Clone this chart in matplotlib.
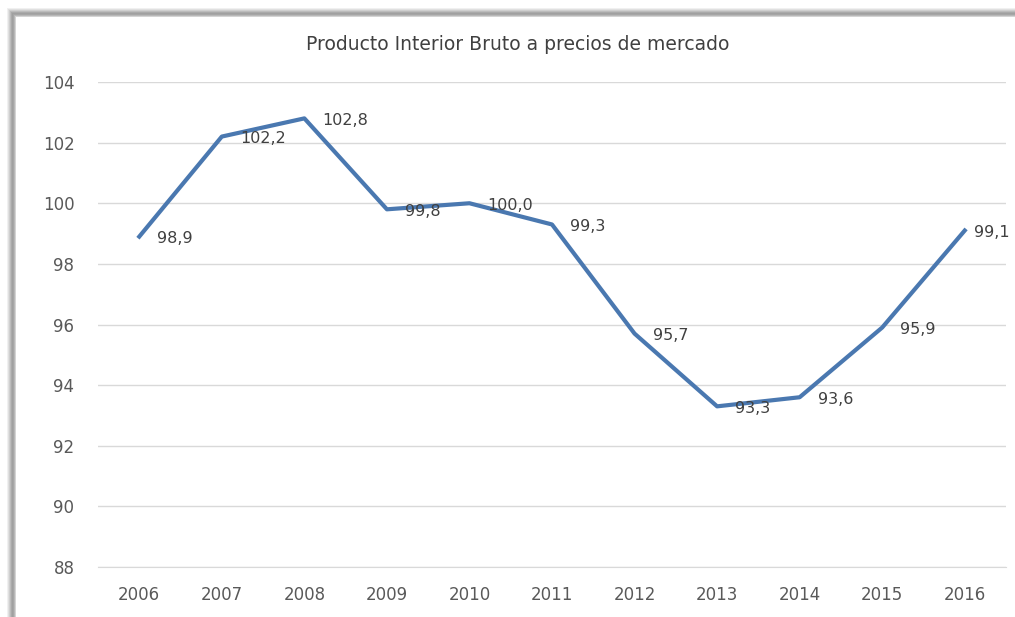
import numpy as np
import matplotlib.pyplot as plt
from matplotlib.patches import Rectangle

years = ['2006', '2007', '2008', '2009', '2010', '2011', '2012', '2013', '2014', '2015', '2016']
pib = [98.9, 102.2, 102.8, 99.8, 100.0, 99.3, 95.7, 93.3, 93.6, 95.9, 99.1]
labels = ['98,9', '102,2', '102,8', '99,8', '100,0', '99,3', '95,7', '93,3', '93,6', '95,9', '99,1']
yticks = [88, 90, 92, 94, 96, 98, 100, 102, 104]

W, H = 1015, 617
fig = plt.figure(figsize=(W / 100, H / 100), dpi=100)
fig.patch.set_facecolor('white')
FONT = 'DejaVu Sans'

# marco con sombra gris (arriba e izquierda)
shades = ['#f0f0f0', '#e0e0e0', '#cfcfcf', '#bcbcbc', '#aaaaaa', '#a0a0a0', '#a6a6a6', '#b8b8b8', '#d4d4d4']
for i, c in enumerate(shades):
    x0 = (7 + i) / W
    y_top = 1 - (8 + i) / H
    fig.patches.append(Rectangle((x0, 0), 1, y_top, transform=fig.transFigure,
                                 facecolor=c, edgecolor='none', zorder=0))
fig.patches.append(Rectangle((16 / W, 0), 1, 1 - 17 / H, transform=fig.transFigure,
                             facecolor='white', edgecolor='none', zorder=0))

ax = fig.add_axes([98 / W, 1 - 567 / H, (1006 - 98) / W, (567 - 82) / H])
ax.set_zorder(2)
ax.set_facecolor('none')
x = np.arange(len(years))
ax.plot(x, pib, color='#4a78b0', lw=3, solid_joinstyle='round', zorder=3)

for i, (xi, v, t) in enumerate(zip(x, pib, labels)):
    dx = 9 if i == len(x) - 1 else 18  # la última etiqueta se pega al borde
    ax.annotate(t, (xi, v), xytext=(dx, -2), textcoords='offset pixels',
                ha='left', va='center', fontsize=11.5, color='#404040',
                family=FONT, zorder=4, annotation_clip=False)

ax.set_xlim(-0.5, len(years) - 0.5)
ax.set_ylim(88, 104)
ax.set_yticks(yticks)
ax.set_yticklabels([str(v) for v in yticks])
ax.set_xticks(x)
ax.set_xticklabels(years)
ax.grid(axis='y', color='#d9d9d9', lw=1)
ax.set_axisbelow(True)
for s in ['top', 'right', 'left']:
    ax.spines[s].set_visible(False)
ax.spines['bottom'].set_color('#d9d9d9')
ax.tick_params(length=0, labelsize=12, labelcolor='#595959')
ax.tick_params(axis='y', pad=17)
ax.tick_params(axis='x', pad=14)
for lab in ax.get_xticklabels() + ax.get_yticklabels():
    lab.set_family(FONT)

fig.text(518 / W, 1 - 45 / H, 'Producto Interior Bruto a precios de mercado',
         ha='center', va='center', fontsize=13.5, color='#404040', family=FONT)

fig.savefig('out.png', dpi=100)
